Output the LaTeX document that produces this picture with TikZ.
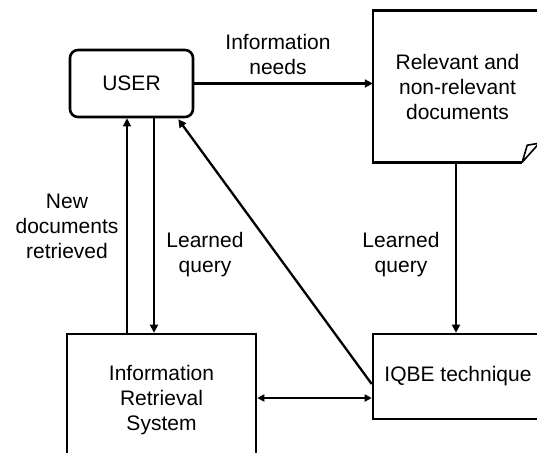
\documentclass[tikz,border=0pt]{standalone}
\usepackage{fontspec}
\setmainfont{Liberation Sans}
\usetikzlibrary{arrows.meta,calc}

\tikzset{
  box/.style={draw, line width=2.6pt, inner sep=0pt, align=center,
              font=\fontsize{21}{25}\selectfont},
  lbl/.style={align=center, inner sep=0pt, font=\fontsize{21}{25}\selectfont},
  flow/.style={line width=2.3pt, -{Triangle[length=8pt,width=8pt]}},
  thinflow/.style={line width=1.3pt, -{Triangle[length=8pt,width=8pt]}},
  both/.style={line width=2.3pt, {Triangle[length=7pt,width=7pt]}-{Triangle[length=7pt,width=7pt]}},
}

\begin{document}
\begin{tikzpicture}[x=1pt,y=-1pt]
  \useasboundingbox (0,0) rectangle (537,452);
  \clip (0,0) rectangle (537,452);

  % boxes
  \node[box, rounded corners=8pt, minimum width=123pt, minimum height=67pt]
    (user) at (131.5,83.5) {USER};
  \node[lbl, minimum width=169pt, minimum height=151pt]
    (doc) at (457.5,86.5) {Relevant and\\non-relevant\\documents};
  \node[box, minimum width=189pt, minimum height=132pt]
    (ir) at (161.5,400) {Information\\Retrieval\\System};
  \node[box, minimum width=170pt, minimum height=85pt]
    (iqbe) at (458,376.5) {IQBE technique};

  % document page with folded corner
  \coordinate (fold) at ([xshift=-20pt]doc.south east);
  \draw[line width=2.6pt, line join=miter]
    (fold) -- (doc.south west) -- (doc.north west) -- (doc.north east);
  \draw[line width=1.6pt, fill=white, line join=round]
    (fold) -- ++(5,-17) -- ++(12,-2) -- cycle;

  % connectors
  \draw[flow] (user.east) -- (user.east -| doc.west);
  \draw[flow] ([xshift=22.5pt]user.south) -- ([xshift=22.5pt]user.south |- ir.north);
  \draw[thinflow] ([xshift=-4.5pt]user.south |- ir.north) -- ([xshift=-4.5pt]user.south);
  \draw[flow] ([xshift=-1.5pt]doc.south) -- ([xshift=-1.5pt]doc.south |- iqbe.north);
  \draw[flow] ([yshift=-7.5pt]iqbe.west) -- ([xshift=-16pt,yshift=-1pt]user.south east);
  \draw[both] ([yshift=2pt]ir.east) -- ([yshift=2pt]ir.east -| iqbe.west);

  % connector labels
  \node[lbl] (needs) at (278,54) {Information\\needs};
  \node[lbl] (newdocs) at (67,226) {New\\documents\\retrieved};
  \node[lbl] (lq1) at (205,255) {Learned\\query};
  \node[lbl] (lq2) at (401,255) {Learned\\query};
\end{tikzpicture}
\end{document}
